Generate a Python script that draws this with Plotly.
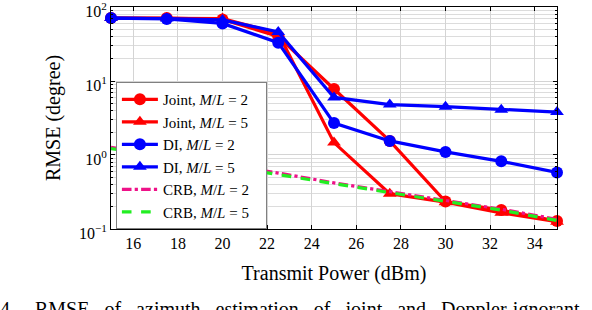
import plotly.graph_objects as go

power = [15, 17.5, 20, 22.5, 25, 27.5, 30, 32.5, 35]
joint_ml2 = [71, 71, 68, 40, 7.8, 1.55, 0.235, 0.18, 0.128]
joint_ml5 = [71, 71, 70, 44, 1.47, 0.30, 0.23, 0.165, 0.125]
di_ml2 = [71, 69, 60, 33, 2.7, 1.55, 1.1, 0.82, 0.58]
di_ml5 = [71, 70, 67, 46, 6.0, 4.8, 4.5, 4.1, 3.8]
crb_ml2 = [1.27, 0.98, 0.75, 0.57, 0.42, 0.32, 0.24, 0.185, 0.135]
crb_ml5 = [1.22, 0.95, 0.72, 0.55, 0.41, 0.31, 0.235, 0.18, 0.13]

x_ticks = [16, 18, 20, 22, 24, 26, 28, 30, 32, 34]
y_ticks = [0.1, 1, 10, 100]
y_ticktext = ["10<sup>\u22121</sup>", "10<sup>0</sup>", "10<sup>1</sup>", "10<sup>2</sup>"]

RED = "#ff0000"
BLUE = "#0000ff"
MAG = "#ee1188"
GRN = "#22ee22"
FONT = "Liberation Serif, serif"

series = [
    ("Joint, <i>M</i>/<i>L</i> = 2", joint_ml2, RED, "circle", "solid", True),
    ("Joint, <i>M</i>/<i>L</i> = 5", joint_ml5, RED, "triangle-up", "solid", True),
    ("DI, <i>M</i>/<i>L</i> = 2", di_ml2, BLUE, "circle", "solid", True),
    ("DI, <i>M</i>/<i>L</i> = 5", di_ml5, BLUE, "triangle-up", "solid", True),
    ("CRB, <i>M</i>/<i>L</i> = 2", crb_ml2, MAG, None, "dashdot", False),
    ("CRB, <i>M</i>/<i>L</i> = 5", crb_ml5, GRN, None, "dash", False),
]

fig = go.Figure()
for name, ys, col, sym, dash, mk in series:
    fig.add_trace(go.Scatter(
        x=power, y=ys, name=name + "&nbsp;&nbsp;&nbsp;",
        mode="lines+markers" if mk else "lines",
        line=dict(color=col, width=3.2, dash=dash),
        marker=dict(symbol=sym, size=12, color=col) if mk else None,
        cliponaxis=False,
    ))

axis_common = dict(
    showline=True, linecolor="black", linewidth=1, mirror="allticks",
    ticks="inside", ticklen=4, tickcolor="black",
    gridcolor="#d4d4d4", gridwidth=1, zeroline=False, automargin=False,
    ticklabeloverflow="allow",
    tickfont=dict(family=FONT, size=16, color="black"),
)

fig.update_xaxes(
    range=[15, 35], tickvals=x_ticks,
    title=dict(text="Transmit Power (dBm)", font=dict(family=FONT, size=20, color="black"), standoff=14),
    **axis_common,
)
fig.update_yaxes(
    type="log", range=[-1.0005, 2.0005], tickvals=y_ticks, ticktext=y_ticktext,
    ticklabelshift=4,
    minor=dict(showgrid=True, gridcolor="#dcdcdc", ticks="inside", ticklen=2, tickcolor="black",
               tickvals=[v * d for d in [0.1, 1, 10] for v in range(2, 10)]),
    title=dict(text="RMSE (degree)", font=dict(family=FONT, size=20, color="black"), standoff=12),
    **axis_common,
)

fig.update_layout(
    width=592, height=310,
    margin=dict(l=111, r=35, t=7, b=81, autoexpand=False),
    paper_bgcolor="white", plot_bgcolor="white",
    font=dict(family=FONT, color="black"),
    legend=dict(
        x=0.011, y=0.662, xanchor="left", yanchor="top",
        bgcolor="white", bordercolor="#808080", borderwidth=1,
        font=dict(family=FONT, size=15, color="black"),
        itemwidth=36, tracegroupgap=0,
    ),
    showlegend=True,
)

gap = "&nbsp;&nbsp;&nbsp;"
caption_words = ["RMSE", "of", "azimuth", "estimation", "of", "joint", "and", "Doppler-ignorant"]
fig.add_annotation(
    text="4." + "&nbsp;" * 4 + gap.join(caption_words),
    xref="paper", yref="paper", x=0, y=0, xanchor="left", yanchor="top",
    xshift=-113, yshift=-67,
    showarrow=False, font=dict(family=FONT, size=20, color="black"),
)

fig.write_html("out.html", config={"displayModeBar": False},
               post_script="document.body.style.margin='0';document.body.style.overflow='hidden';")
